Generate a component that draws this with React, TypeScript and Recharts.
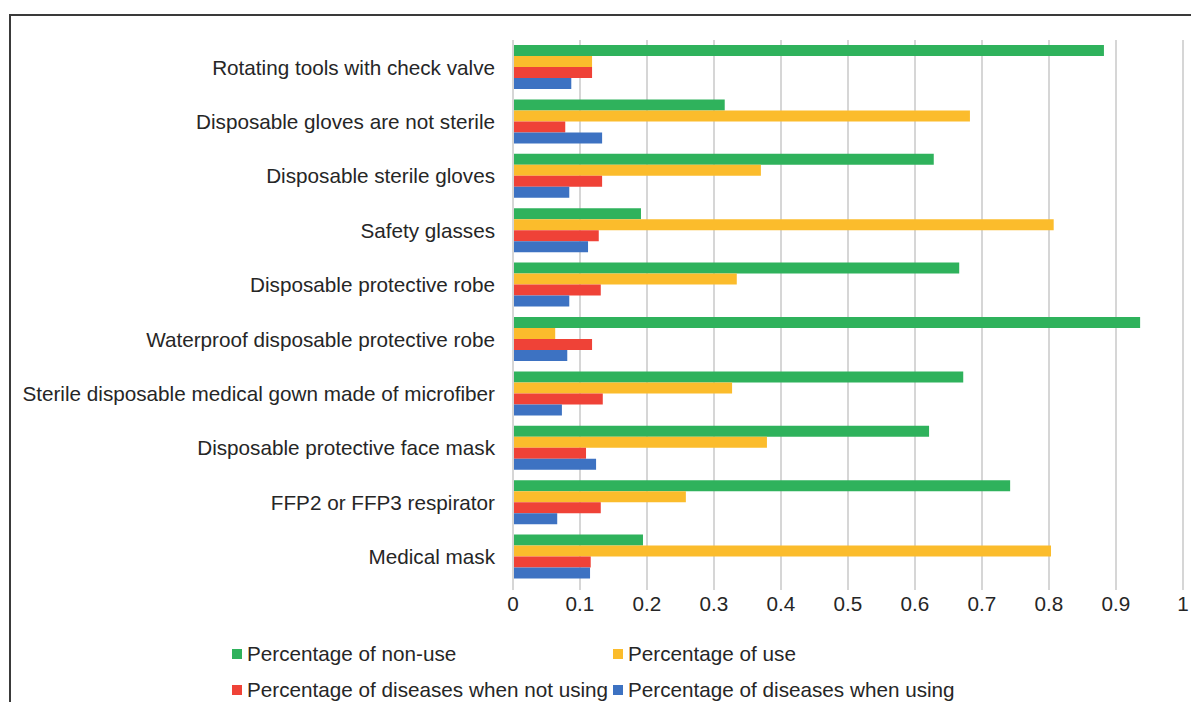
import React from 'react';
import { BarChart, Bar, XAxis, YAxis, CartesianGrid } from 'recharts';

const categories = [
  'Rotating tools with check valve',
  'Disposable gloves are not sterile',
  'Disposable sterile gloves',
  'Safety glasses',
  'Disposable protective robe',
  'Waterproof disposable protective robe',
  'Sterile disposable medical gown made of microfiber',
  'Disposable protective face mask',
  'FFP2 or FFP3 respirator ',
  'Medical mask',
];

const nonUse = [0.882, 0.316, 0.628, 0.191, 0.666, 0.936, 0.672, 0.621, 0.742, 0.194];
const use = [0.118, 0.682, 0.37, 0.807, 0.334, 0.063, 0.327, 0.379, 0.258, 0.803];
const diseasesNotUsing = [0.118, 0.078, 0.133, 0.128, 0.131, 0.118, 0.134, 0.109, 0.131, 0.116];
const diseasesUsing = [0.087, 0.133, 0.084, 0.112, 0.084, 0.081, 0.073, 0.124, 0.066, 0.115];

const xTicks = [0, 0.1, 0.2, 0.3, 0.4, 0.5, 0.6, 0.7, 0.8, 0.9, 1];

const series = [
  { key: 'nonUse', name: 'Percentage of non-use', color: '#2fb25c' },
  { key: 'use', name: 'Percentage of use', color: '#fbbc2c' },
  { key: 'notUsing', name: 'Percentage of diseases when not using', color: '#ef4237' },
  { key: 'using', name: 'Percentage of diseases when using', color: '#3d72c2' },
];

const data = categories.map((name, i) => ({
  name,
  nonUse: nonUse[i],
  use: use[i],
  notUsing: diseasesNotUsing[i],
  using: diseasesUsing[i],
}));

const FONT = '"Liberation Sans", Arial, sans-serif';
const FS = 20.7;

export default function App() {
  return (
    <div
      style={{
        position: 'absolute',
        left: 0,
        top: 0,
        width: 1191,
        height: 702,
        background: '#fff',
        overflow: 'hidden',
        fontFamily: FONT,
      }}
    >
      <div
        style={{
          position: 'absolute',
          left: 9,
          top: 14,
          width: 1300,
          height: 800,
          borderTop: '2px solid #3a3a3a',
          borderLeft: '2px solid #3a3a3a',
        }}
      />
      <div style={{ position: 'absolute', left: 0, top: 0 }}>
        <BarChart
          width={1191}
          height={624}
          data={data}
          layout="vertical"
          margin={{ top: 40, right: 8, bottom: 10, left: 0 }}
          barCategoryGap={5}
          barGap={0}
        >
          <CartesianGrid horizontal={false} stroke="#d6d6d6" strokeWidth={2} />
          <XAxis
            type="number"
            domain={[0, 1]}
            ticks={xTicks}
            interval={0}
            axisLine={false}
            tickLine={{ stroke: '#d6d6d6', strokeWidth: 2 }}
            tickSize={6}
            tickMargin={6}
            height={30}
            tick={{ fontSize: FS, fill: '#262626', fontFamily: FONT }}
          />
          <YAxis
            type="category"
            dataKey="name"
            width={513}
            axisLine={{ stroke: '#d6d6d6', strokeWidth: 2 }}
            tickLine={false}
            tickSize={6}
            tickMargin={12}
            interval={0}
            tick={{ fontSize: FS, fill: '#262626', fontFamily: FONT }}
          />
          {series.map((s) => (
            <Bar
              key={s.key}
              dataKey={s.key}
              name={s.name}
              fill={s.color}
              isAnimationActive={false}
            />
          ))}
        </BarChart>
      </div>
      {series.map((s, i) => (
        <div
          key={s.key}
          style={{
            position: 'absolute',
            left: i % 2 === 0 ? 232 : 613,
            top: i < 2 ? 641 : 677,
            display: 'flex',
            alignItems: 'center',
            fontSize: FS,
            color: '#262626',
            whiteSpace: 'nowrap',
            lineHeight: '26px',
          }}
        >
          <span
            style={{
              display: 'inline-block',
              width: 10,
              height: 10,
              background: s.color,
              marginRight: 5,
            }}
          />
          {s.name}
        </div>
      ))}
    </div>
  );
}
